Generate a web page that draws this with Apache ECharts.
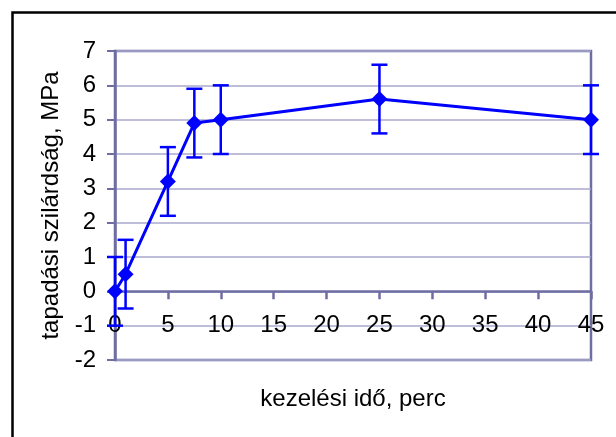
<!DOCTYPE html>
<html>
<head>
<meta charset="utf-8">
<script src="https://cdn.jsdelivr.net/npm/echarts@6/dist/echarts.min.js"></script>
<style>
html,body{margin:0;padding:0;background:#fff;}
#c{width:616px;height:437px;}
</style>
</head>
<body>
<div id="c"></div>
<script>
// Data
const times = [0, 1, 5, 7.5, 10, 25, 45];
const strength = [0, 0.5, 3.2, 4.9, 5.0, 5.6, 5.0];
const errors = [1, 1, 1, 1, 1, 1, 1];
const xTitle = 'kezelési idő, perc';
const yTitle = 'tapadási szilárdság, MPa';

const axisColor = '#6E6EA2';
const gridColor = '#A8A8CE';
const blue = '#0000FF';
const font = '"Liberation Sans", Arial, sans-serif';

const gridTop = 51, gridBottom = 77, chartH = 437;
const yMin = -2, yMax = 7;
// shift x axis (line, ticks, labels, name) up to the y = 0 level
const plotH = chartH - gridTop - gridBottom;
const zeroShift = -plotH * (0 - yMin) / (yMax - yMin);

const points = times.map((t, i) => [t, strength[i]]);
const errData = times.map((t, i) => [t, strength[i] - errors[i], strength[i] + errors[i]]);

const chart = echarts.init(document.getElementById('c'), null, {renderer: 'canvas'});
chart.setOption({
  animation: false,
  backgroundColor: '#fff',
  graphic: [{
    type: 'rect', left: 10, top: 10, silent: true, z: 0,
    shape: {x: 0, y: 0, width: 700, height: 500},
    style: {fill: 'none', stroke: '#000', lineWidth: 2.5}
  }],
  grid: {
    left: 115, right: 25, top: gridTop, bottom: gridBottom,
    containLabel: false, outerBoundsMode: 'none',
    show: true, borderColor: axisColor, borderWidth: 2.5, backgroundColor: 'transparent'
  },
  xAxis: {
    type: 'value', min: 0, max: 45, interval: 5,
    offset: zeroShift,
    name: xTitle, nameLocation: 'middle', nameGap: 96,
    nameTextStyle: {fontFamily: font, fontSize: 24, color: '#000', verticalAlign: 'top'},
    axisLine: {show: true, onZero: false, lineStyle: {color: axisColor, width: 2.5}},
    axisTick: {show: true, inside: false, length: 8, lineStyle: {color: axisColor, width: 2.5}},
    axisLabel: {fontFamily: font, fontSize: 24, color: '#000', margin: 22, showMinLabel: true, showMaxLabel: true, hideOverlap: false},
    splitLine: {show: false}
  },
  yAxis: {
    type: 'value', min: yMin, max: yMax, interval: 1,
    name: yTitle, nameLocation: 'middle', nameGap: 64, nameRotate: 90,
    nameTextStyle: {fontFamily: font, fontSize: 24, color: '#000', verticalAlign: 'middle'},
    axisLine: {show: true, onZero: false, lineStyle: {color: axisColor, width: 2.5}},
    axisTick: {show: true, inside: false, length: 8, lineStyle: {color: axisColor, width: 2}},
    axisLabel: {fontFamily: font, fontSize: 24, color: '#000', margin: 19, hideOverlap: false},
    splitLine: {show: true, lineStyle: {color: gridColor, width: 1.5}}
  },
  series: [
    {
      type: 'custom',
      data: errData,
      z: 3,
      renderItem: function (params, api) {
        const x = api.value(0);
        const lo = api.coord([x, api.value(1)]);
        const hi = api.coord([x, api.value(2)]);
        const cap = 8;
        const st = {stroke: blue, lineWidth: 2.5, fill: 'none'};
        return {
          type: 'group',
          children: [
            {type: 'line', shape: {x1: hi[0], y1: hi[1], x2: lo[0], y2: lo[1]}, style: st},
            {type: 'line', shape: {x1: hi[0] - cap, y1: hi[1], x2: hi[0] + cap, y2: hi[1]}, style: st},
            {type: 'line', shape: {x1: lo[0] - cap, y1: lo[1], x2: lo[0] + cap, y2: lo[1]}, style: st}
          ]
        };
      }
    },
    {
      type: 'line',
      data: points,
      z: 4,
      symbol: 'diamond',
      symbolSize: 16,
      lineStyle: {color: blue, width: 3},
      itemStyle: {color: blue},
      clip: false
    }
  ]
});
</script>
</body>
</html>
